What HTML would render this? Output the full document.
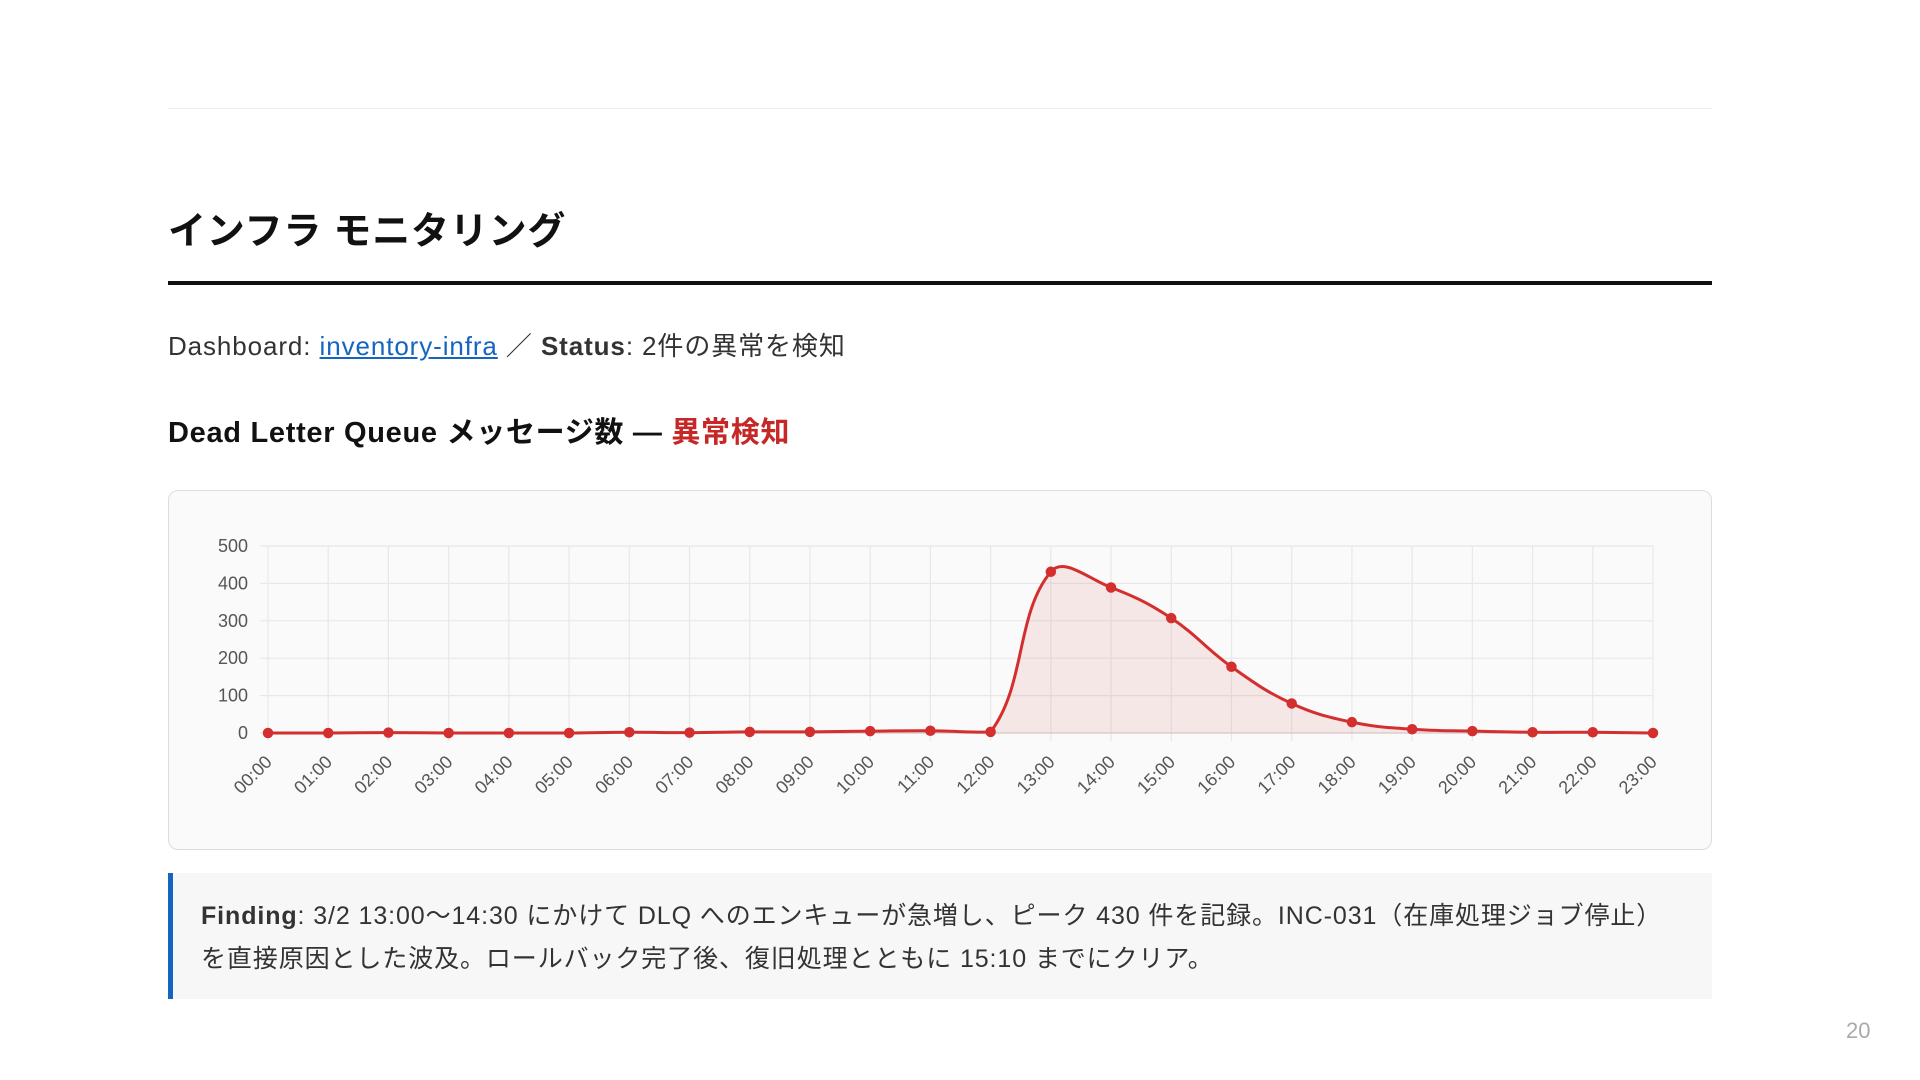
<!DOCTYPE html>
<html><head><meta charset="utf-8">
<style>
html,body{margin:0;padding:0;background:#fff;width:1920px;height:1080px;overflow:hidden}
body{font-family:"Liberation Sans","Noto Sans CJK JP",sans-serif;color:#222;position:relative}
.abs{position:absolute}
.topline{left:168px;top:108px;width:1544px;height:1px;background:#eee}
h1{position:absolute;left:168px;top:207px;margin:0;font-size:38px;font-weight:700;line-height:50px;color:#111;letter-spacing:0.8px}
.thick{left:168px;top:281px;width:1544px;height:4px;background:#111}
.dash{left:168px;top:330px;font-size:26px;line-height:32px;color:#333;white-space:nowrap;letter-spacing:0.9px}
.dash a{color:#1565c0;text-decoration:underline}
h2{position:absolute;left:168px;top:414px;margin:0;font-size:29px;font-weight:700;line-height:38px;color:#111;white-space:nowrap;letter-spacing:0.7px}
h2 span{color:#c62828}
.box{left:168px;top:490px;width:1542px;height:358px;border:1.5px solid #ddd;border-radius:10px;background:#fafafa}
.find{left:168px;top:873px;width:1544px;height:126px;background:#f7f7f7;border-left:5px solid #1565c0;box-sizing:border-box}
.find p{margin:0;position:absolute;left:28px;top:22px;font-size:25px;line-height:43px;color:#333;white-space:nowrap;letter-spacing:0.9px}
.pn{left:1846px;top:1018px;font-size:22px;color:#aaa}
</style></head><body>
<div class="abs topline"></div>
<h1>インフラ モニタリング</h1>
<div class="abs thick"></div>
<div class="abs dash">Dashboard: <a>inventory-infra</a> ／ <b>Status</b>: 2件の異常を検知</div>
<h2>Dead Letter Queue メッセージ数 — <span>異常検知</span></h2>
<div class="abs box"></div>
<svg class="abs" style="left:0;top:0" width="1920" height="1080" id="ch"></svg>
<div class="abs find"><p><b>Finding</b>: 3/2 13:00〜14:30 にかけて DLQ へのエンキューが急増し、ピーク 430 件を記録。INC-031（在庫処理ジョブ停止）<br>を直接原因とした波及。ロールバック完了後、復旧処理とともに 15:10 までにクリア。</p></div>
<div class="abs pn">20</div>
<script>
var d=[0,0,1,0,0,0,2,1,3,3,5,6,3,431,389,307,177,79,29,10,5,2,2,0];
var x0=268,x1=1653,y0=733,y5=546,st=(x1-x0)/23;
function X(i){return x0+i*st}function Y(v){return y0-(y0-y5)*v/500}
var s='';
for(var k=0;k<=5;k++){var y=Y(k*100);s+='<line x1="'+(x0-8)+'" y1="'+y+'" x2="'+x1+'" y2="'+y+'" stroke="#e8e8e8" stroke-width="1.2"/>';
s+='<text x="'+(x0-20)+'" y="'+(y+6)+'" text-anchor="end" font-size="18" fill="#555" font-family="Liberation Sans,sans-serif">'+(k*100)+'</text>';}
for(var i=0;i<24;i++){var x=X(i);s+='<line x1="'+x+'" y1="'+y5+'" x2="'+x+'" y2="'+(y0+8)+'" stroke="#e8e8e8" stroke-width="1.2"/>';
var l=(i<10?'0':'')+i+':00';
s+='<text transform="translate('+(x+5)+','+(y0+30)+') rotate(-45)" text-anchor="end" font-size="18" fill="#555" font-family="Liberation Sans,sans-serif">'+l+'</text>';}
var P=d.map(function(v,i){return[X(i),Y(v)]});var t=0.4,cp=[];
for(var i=0;i<24;i++){var p=P[i],pr=P[i-1]||p,nx=P[i+1]||p;
var d01=Math.hypot(p[0]-pr[0],p[1]-pr[1]),d12=Math.hypot(nx[0]-p[0],nx[1]-p[1]);
var fa=d01+d12?t*d01/(d01+d12):0,fb=d01+d12?t*d12/(d01+d12):0;
var a=[p[0]-fa*(nx[0]-pr[0]),p[1]-fa*(nx[1]-pr[1])],b=[p[0]+fb*(nx[0]-pr[0]),p[1]+fb*(nx[1]-pr[1])];
a[1]=Math.min(a[1],y0);b[1]=Math.min(b[1],y0);cp.push([a,b]);}
var path='M'+P[0][0]+','+P[0][1];
for(var i=1;i<24;i++){path+=' C'+cp[i-1][1][0]+','+cp[i-1][1][1]+' '+cp[i][0][0]+','+cp[i][0][1]+' '+P[i][0]+','+P[i][1];}
s+='<path d="'+path+' L'+x1+','+y0+' L'+x0+','+y0+'Z" fill="rgba(211,47,47,0.09)"/>';
s+='<line x1="'+x0+'" y1="'+y0+'" x2="'+x1+'" y2="'+y0+'" stroke="#d9c8c8" stroke-width="1.2"/>';
s+='<path d="'+path+'" fill="none" stroke="#d32f2f" stroke-width="3"/>';
P.forEach(function(p){s+='<circle cx="'+p[0]+'" cy="'+p[1]+'" r="4.5" fill="#d32f2f" stroke="#d32f2f" stroke-width="1.5"/>'});
document.getElementById('ch').innerHTML=s;
</script>
</body></html>
